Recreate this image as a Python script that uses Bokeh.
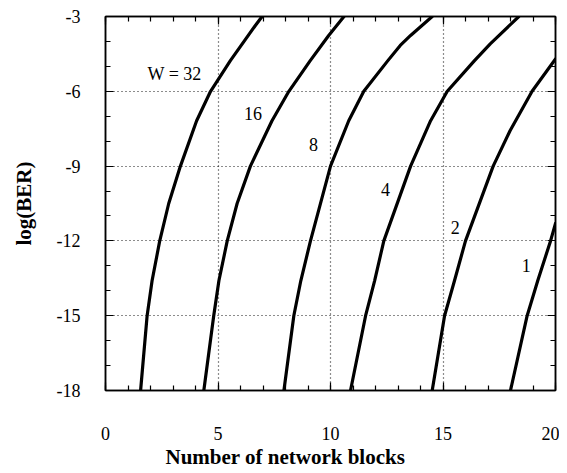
from bokeh.plotting import figure
from bokeh.models import Range1d, LinearAxis, FixedTicker, Title, ColumnDataSource
from bokeh.core.properties import value
from bokeh.embed import file_html
from bokeh.resources import INLINE

SERIF = "Liberation Serif"

# ---- data ----
x_ticks = [0, 5, 10, 15, 20]
y_ticks = [-18, -15, -12, -9, -6, -3]
y_tick_text = ["-18", "-15", "-12", "-9", "-6", "-3"]

w32_x = [1.56, 1.85, 2.07, 2.41, 2.81, 3.33, 4.05, 4.67, 5.55, 6.66, 6.96]
w32_y = [-18, -15, -13.6, -12, -10.5, -9, -7.18, -6, -4.77, -3.36, -3]

w16_x = [4.37, 4.81, 5.04, 5.41, 5.85, 6.44, 7.4, 8.15, 9.1, 9.92, 10.6]
w16_y = [-18, -15, -13.6, -12, -10.5, -9, -7.18, -6, -4.77, -3.76, -3]

w8_x = [7.93, 8.37, 8.68, 9.11, 10.0, 10.81, 11.48, 12.55, 13.1, 13.56, 14.52]
w8_y = [-18, -15, -13.6, -12, -9, -7.18, -6, -4.77, -4.16, -3.76, -3]

w4_x = [10.89, 11.56, 11.96, 12.37, 13.56, 14.45, 15.19, 16.4, 17.1, 18.37]
w4_y = [-18, -15, -13.6, -12, -9, -7.18, -6, -4.77, -4.1, -3]

w2_x = [14.52, 15.07, 15.51, 16.0, 17.23, 17.98, 18.96, 20.0]
w2_y = [-18, -15, -13.6, -12, -9, -7.58, -6, -4.70]

w1_x = [18.0, 18.74, 19.21, 19.78, 20.0]
w1_y = [-18, -15, -13.6, -12, -11.3]

curve_labels = ["W = 32", "16", "8", "4", "2", "1"]
label_x = [3.07, 6.56, 9.24, 12.44, 15.54, 18.7]
label_y = [-5.29, -6.9, -8.14, -9.95, -11.47, -13.0]

# ---- figure ----
p = figure(frame_width=450, frame_height=374,
           x_range=Range1d(0, 20), y_range=Range1d(-18, -3),
           output_backend="svg", toolbar_location=None,
           min_border_left=105, min_border_right=4, min_border_top=16,
           min_border_bottom=0, background_fill_color="white",
           border_fill_color="white")

p.outline_line_color = "black"
p.outline_line_width = 1.5

xt = FixedTicker(ticks=x_ticks, minor_ticks=list(range(0, 21)))
yt = FixedTicker(ticks=y_ticks, minor_ticks=list(range(-18, -2)))

def style_axis(ax, show_labels):
    ax.axis_line_color = "black"
    ax.axis_line_width = 1.5
    ax.major_tick_in = 8
    ax.major_tick_out = 0
    ax.minor_tick_in = 5
    ax.minor_tick_out = 0
    ax.major_tick_line_color = "black"
    ax.minor_tick_line_color = "black"
    ax.major_tick_line_width = 1.2
    ax.minor_tick_line_width = 1.2
    if not show_labels:
        ax.major_label_text_font_size = "0px"
        ax.major_label_text_alpha = 0
        ax.major_label_standoff = 0
    else:
        ax.major_label_text_font = SERIF
        ax.major_label_text_font_size = "18px"
        ax.major_label_text_color = "black"

xa = p.xaxis[0]
xa.ticker = xt
style_axis(xa, True)
xa.major_label_standoff = 36

ya = p.yaxis[0]
ya.ticker = yt
style_axis(ya, True)
ya.major_label_overrides = {t: s for t, s in zip(y_ticks, y_tick_text)}
ya.major_label_standoff = 25
ya.axis_label = "log(BER)"
ya.axis_label_text_font = SERIF
ya.axis_label_text_font_style = "bold"
ya.axis_label_text_font_size = "21px"
ya.axis_label_standoff = 18
ya.axis_label_text_color = "black"

top = LinearAxis(ticker=xt)
style_axis(top, False)
p.add_layout(top, "above")
right = LinearAxis(ticker=yt)
style_axis(right, False)
p.add_layout(right, "right")

p.xgrid.ticker = FixedTicker(ticks=x_ticks[1:-1])
p.ygrid.ticker = FixedTicker(ticks=y_ticks[1:-1])
for g in (p.xgrid[0], p.ygrid[0]):
    g.grid_line_color = "black"
    g.grid_line_dash = "1 3"
    g.grid_line_width = 1.2
    g.grid_line_alpha = 0.9

xlabel = Title(text="Number of network blocks", align="left", offset=60,
               text_font=SERIF, text_font_style="bold", text_font_size="21px",
               text_color="black", standoff=0)
p.add_layout(xlabel, "below")

for xs, ys in [(w32_x, w32_y), (w16_x, w16_y), (w8_x, w8_y),
               (w4_x, w4_y), (w2_x, w2_y), (w1_x, w1_y)]:
    p.line(xs, ys, line_color="black", line_width=3.2, line_join="round",
           line_cap="round")

src = ColumnDataSource(dict(x=label_x, y=label_y, t=curve_labels))
p.text(x="x", y="y", text="t", source=src, text_font=value(SERIF),
       text_font_size="18px", text_align="center", text_baseline="middle",
       text_color="black")

open("out.html", "w").write(file_html(p, INLINE))
